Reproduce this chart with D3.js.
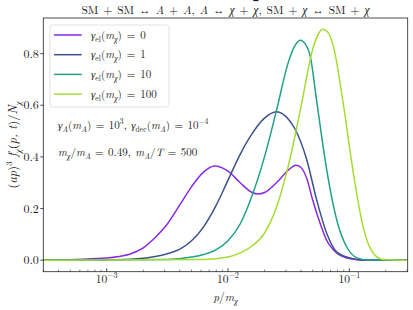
<!DOCTYPE html>
<html>
<head>
<meta charset="utf-8">
<script src="https://cdn.jsdelivr.net/npm/d3@7"></script>
<style>
  body { margin: 0; background: #fff; }
  svg { display: block; }
</style>
</head>
<body>
<svg width="413" height="310"></svg>
<script>
// series values  (p/m_chi , (ap)^3 f/N)
const gammaLabels = ["0", "1", "10", "100"];
const colors = ["#8a2be2", "#3b528b", "#1fa088", "#a5dc33"];

const pGamma0 = [0.0003, 0.00056, 0.001, 0.00126, 0.00158, 0.002, 0.00251, 0.00316, 0.00398, 0.00501, 0.00631, 0.0077, 0.01, 0.0126, 0.0158, 0.0178, 0.02, 0.0251, 0.0316, 0.0363, 0.0398, 0.0447, 0.0501, 0.0575, 0.0646, 0.0794, 0.0955, 0.115, 0.141, 0.3];
const fGamma0 = [0, 0.003, 0.008, 0.014, 0.025, 0.048, 0.088, 0.14, 0.212, 0.285, 0.342, 0.365, 0.345, 0.30, 0.262, 0.256, 0.262, 0.30, 0.35, 0.368, 0.36, 0.315, 0.23, 0.142, 0.08, 0.026, 0.008, 0.002, 0, 0];

const pGamma1 = [0.0003, 0.001, 0.00178, 0.00251, 0.00316, 0.00398, 0.00501, 0.00631, 0.00794, 0.01, 0.0126, 0.0158, 0.02, 0.0251, 0.0316, 0.0355, 0.0447, 0.0537, 0.0652, 0.0794, 0.107, 0.141, 0.3];
const fGamma1 = [0, 0.001, 0.005, 0.014, 0.025, 0.042, 0.075, 0.13, 0.21, 0.31, 0.41, 0.49, 0.55, 0.575, 0.545, 0.51, 0.387, 0.235, 0.103, 0.03, 0.006, 0, 0];

const pGamma10 = [0.0003, 0.00316, 0.00501, 0.00631, 0.00794, 0.01, 0.0126, 0.0158, 0.02, 0.0251, 0.0316, 0.0355, 0.0393, 0.0437, 0.0479, 0.0537, 0.0652, 0.0794, 0.0955, 0.115, 0.141, 0.3];
const fGamma10 = [0, 0.003, 0.012, 0.022, 0.04, 0.075, 0.14, 0.25, 0.40, 0.58, 0.77, 0.83, 0.852, 0.835, 0.785, 0.62, 0.349, 0.15, 0.05, 0.01, 0.001, 0];

const pGamma100 = [0.0003, 0.00631, 0.01, 0.0126, 0.0158, 0.02, 0.0251, 0.0316, 0.0398, 0.0501, 0.0562, 0.0604, 0.0661, 0.0741, 0.0891, 0.107, 0.130, 0.158, 0.19, 0.3];
const fGamma100 = [0, 0.003, 0.012, 0.028, 0.055, 0.105, 0.205, 0.37, 0.59, 0.82, 0.88, 0.894, 0.885, 0.826, 0.607, 0.349, 0.129, 0.026, 0.003, 0];

const xMajor = [1e-3, 1e-2, 1e-1];
const xMajorExp = ["\u22123", "\u22122", "\u22121"];
const yTicks = [0, 0.2, 0.4, 0.6, 0.8];

const series = [
  [pGamma0, fGamma0], [pGamma1, fGamma1], [pGamma10, fGamma10], [pGamma100, fGamma100]
];

const FONT = "'Latin Modern Roman', 'Liberation Serif', serif";
const INK = '#1a1a1a';

const svg = d3.select('svg');
const plotL = 43.3, plotR = 407.7, plotT = 18, plotB = 271.7;

const x = d3.scaleLog().domain([3.0e-4, 0.303]).range([plotL, plotR]);
const y = d3.scaleLinear().domain([-0.0447, 0.938]).range([plotB, plotT]);

// little helper for math-ish text: [text, style] with style r / i / subr / subi / supr / bar
function mathText(sel, parts, size, ws) {
  let shift = 0;
  sel.attr('font-family', FONT).style('font-family', FONT).attr('fill', INK)
    .style('word-spacing', (ws || 0) + 'px');
  parts.forEach(([txt, st]) => {
    const isSub = st.startsWith('sub'), isSup = st.startsWith('sup');
    const target = isSub ? size * 0.28 : isSup ? -size * 0.42 : 0;
    const ts = sel.append('tspan')
      .attr('dy', target - shift)
      .style('font-family', FONT)
      .style('font-size', ((isSub || isSup) ? size * 0.7 : size) + 'px')
      .style('font-style', (st.endsWith('i') || st === 'bar') ? 'italic' : 'normal')
      .text(txt);
    if (st === 'bar') ts.style('text-decoration', 'overline');
    shift = target;
  });
}

svg.append('clipPath').attr('id', 'plotclip')
  .append('rect').attr('x', plotL).attr('y', plotT)
  .attr('width', plotR - plotL).attr('height', plotB - plotT);

const line = d3.line()
  .x(d => x(d[0]))
  .y(d => y(d[1]))
  .curve(d3.curveMonotoneX);

const curves = svg.append('g').attr('clip-path', 'url(#plotclip)');
series.forEach(([ps, fs], i) => {
  curves.append('path')
    .datum(ps.map((p, k) => [p, fs[k]]))
    .attr('d', line)
    .attr('fill', 'none')
    .attr('stroke', colors[i])
    .attr('stroke-width', 1.5);
});

// frame
svg.append('rect')
  .attr('x', plotL).attr('y', plotT)
  .attr('width', plotR - plotL).attr('height', plotB - plotT)
  .attr('fill', 'none').attr('stroke', '#222').attr('stroke-width', 0.8);

// x ticks (pointing in)
const minor = x.ticks().filter(t => !xMajor.some(m => Math.abs(m - t) / m < 1e-6));
svg.append('g').selectAll('line').data(minor).join('line')
  .attr('x1', d => x(d)).attr('x2', d => x(d))
  .attr('y1', plotB).attr('y2', plotB - 2)
  .attr('stroke', '#222').attr('stroke-width', 0.6);
svg.append('g').selectAll('line').data(xMajor).join('line')
  .attr('x1', d => x(d)).attr('x2', d => x(d))
  .attr('y1', plotB).attr('y2', plotB - 3.5)
  .attr('stroke', '#222').attr('stroke-width', 0.8);

xMajor.forEach((t, i) => {
  const tx = svg.append('text')
    .attr('x', x(t)).attr('y', 283)
    .attr('text-anchor', 'middle');
  mathText(tx, [["10", "r"], [xMajorExp[i], "supr"]], 11.5);
});

// y ticks (pointing out)
svg.append('g').selectAll('line').data(yTicks).join('line')
  .attr('x1', plotL - 3).attr('x2', plotL)
  .attr('y1', d => y(d)).attr('y2', d => y(d))
  .attr('stroke', '#222').attr('stroke-width', 0.8);
yTicks.forEach(t => {
  const ty = svg.append('text')
    .attr('x', plotL - 4.5).attr('y', y(t) + 4)
    .attr('text-anchor', 'end');
  mathText(ty, [[t.toFixed(1), "r"]], 12);
});

// axis labels
const xl = svg.append('text').attr('x', (plotL + plotR) / 2).attr('y', 300.5)
  .attr('text-anchor', 'middle');
mathText(xl, [["p", "i"], ["/", "r"], ["m", "i"], ["\u03c7", "subi"]], 11.5);

const yl = svg.append('text')
  .attr('transform', `translate(17, ${(plotT + plotB) / 2}) rotate(-90)`)
  .attr('text-anchor', 'middle');
mathText(yl, [["(", "r"], ["ap", "i"], [")", "r"], ["3", "supr"], [" f", "i"], ["\u03c7", "subi"],
  ["(", "r"], ["p, t", "i"], [")/", "r"], ["N", "i"], ["\u03c7", "subi"]], 12.5);

// title
const tt = svg.append('text').attr('x', (plotL + plotR) / 2).attr('y', 14)
  .attr('text-anchor', 'middle');
mathText(tt, [["SM + SM \u2194 ", "r"], ["A", "i"], [" + ", "r"], ["A", "i"], [",  ", "r"],
  ["A", "i"], [" \u2194 ", "r"], ["\u03c7", "i"], [" + ", "r"], ["\u03c7", "bar"], [",  SM + ", "r"],
  ["\u03c7", "i"], [" \u2194 SM + ", "r"], ["\u03c7", "i"]], 11.5, 1.1);

// legend
const lg = svg.append('g');
lg.append('rect')
  .attr('x', 50).attr('y', 25).attr('width', 119).attr('height', 82)
  .attr('rx', 2.5).attr('fill', '#fff').attr('fill-opacity', 0.8)
  .attr('stroke', '#dcdcdc').attr('stroke-width', 0.8);
gammaLabels.forEach((g, i) => {
  const ly = 35 + i * 19.7;
  lg.append('line')
    .attr('x1', 54).attr('x2', 81.7).attr('y1', ly).attr('y2', ly)
    .attr('stroke', colors[i]).attr('stroke-width', 1.5);
  const t = lg.append('text').attr('x', 91).attr('y', ly + 3.5);
  mathText(t, [["\u03b3", "i"], ["el", "subr"], ["(", "r"], ["m", "i"], ["\u03c7", "subi"], [") = " + g, "r"]], 11, 1.2);
});

// annotations
const a1 = svg.append('text').attr('x', 58).attr('y', 129);
mathText(a1, [["\u03b3", "i"], ["A", "subi"], ["(", "r"], ["m", "i"], ["A", "subi"], [") = 10", "r"], ["3", "supr"],
  [", ", "r"], ["\u03b3", "i"], ["dec", "subr"], ["(", "r"], ["m", "i"], ["A", "subi"], [") = 10", "r"], ["\u22124", "supr"]], 11, 0.8);
const a2 = svg.append('text').attr('x', 58).attr('y', 156);
mathText(a2, [["m", "i"], ["\u03c7", "subi"], ["/", "r"], ["m", "i"], ["A", "subi"], [" = 0.49, ", "r"],
  ["m", "i"], ["A", "subi"], ["/", "r"], ["T", "i"], [" = 500", "r"]], 11, 0.8);
</script>
</body>
</html>
